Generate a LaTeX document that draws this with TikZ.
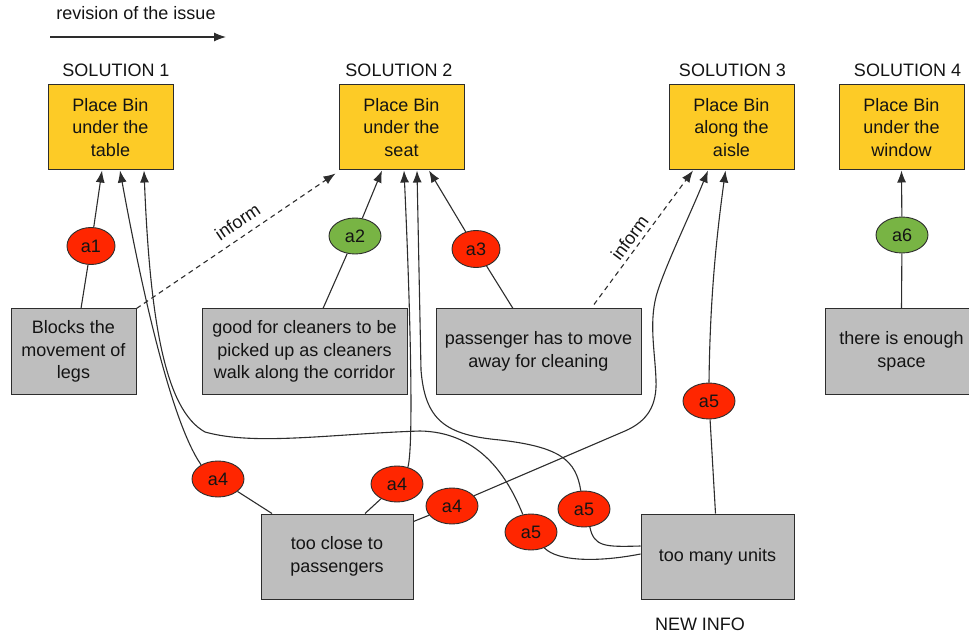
\documentclass[tikz,border=0pt]{standalone}
\usepackage{fontspec}
\setmainfont{Liberation Sans}
\usetikzlibrary{calc,arrows.meta,shapes.geometric}
\definecolor{solfill}{RGB}{253,203,38}
\definecolor{infofill}{RGB}{190,190,190}
\definecolor{conred}{RGB}{255,38,0}
\definecolor{progreen}{RGB}{120,180,68}
\definecolor{edge}{RGB}{45,45,45}
\definecolor{ink}{RGB}{20,20,20}
\begin{document}
\begin{tikzpicture}[x=1pt,y=-1pt,
  every node/.style={font=\fontsize{18}{22.5}\selectfont, text=ink},
  solbox/.style={draw=edge, line width=1pt, fill=solfill, minimum width=125pt,
    minimum height=85pt, align=center, inner sep=0pt},
  infobox/.style={draw=edge, line width=1pt, fill=infofill, minimum height=85pt,
    align=center, inner sep=0pt},
  argcon/.style={ellipse, draw=edge, line width=0.9pt, fill=conred,
    minimum width=52pt, minimum height=36pt, inner sep=0pt},
  argpro/.style={argcon, fill=progreen},
  link/.style={draw=edge, line width=1.1pt},
  arr/.style={link, -{Latex[length=12pt,width=9pt]}},
  informarrow/.style={arr, dash pattern=on 5pt off 4pt},
  heading/.style={inner sep=0pt}
]
\useasboundingbox (0,0) rectangle (969,636);

% direction of revision
\node[heading] (rev) at (136,13) {revision of the issue};
\coordinate (revA) at (50,37);
\coordinate (revB) at (226,37);
\draw[arr] (revA) -- (revB);

% solutions
\node[heading] (h1) at (116,70) {SOLUTION 1};
\node[heading] (h2) at (399,70) {SOLUTION 2};
\node[heading] (h3) at (732.5,70) {SOLUTION 3};
\node[heading] (h4) at (907.5,70) {SOLUTION 4};

\node[solbox] (S1) at (110.5,127.5) {Place Bin\\under the\\table};
\node[solbox] (S2) at (401.5,127.5) {Place Bin\\under the\\seat};
\node[solbox] (S3) at (731.5,127.5) {Place Bin\\along the\\aisle};
\node[solbox] (S4) at (901.5,127.5) {Place Bin\\under the\\window};

% information boxes
\node[infobox, minimum width=125pt] (blk) at (73.5,351.5) {Blocks the\\movement of\\legs};
\node[infobox, minimum width=205pt] (good) at (304.5,351.5) {good for cleaners to be\\picked up as cleaners\\walk along the corridor};
\node[infobox, minimum width=205pt] (pas) at (538.5,351.5) {passenger has to move\\away for cleaning};
\node[infobox, minimum width=152pt] (enough) at (901.5,351.5) {there is enough\\space};
\node[infobox, minimum width=152pt] (tc) at (337,556.5) {too close to\\passengers};
\node[infobox, minimum width=153pt] (tm) at (717.5,556.5) {too many units};
\node[heading] (newinfo) at (700,624) {NEW INFO};

% arguments
\node[argcon, minimum width=48pt, minimum height=37pt] (a1) at (91,246) {a1};
\node[argpro] (a2) at (355,236) {a2};
\node[argcon, minimum width=48pt, minimum height=37pt] (a3) at (476,249) {a3};
\node[argpro] (a6) at (902,235) {a6};
\node[argcon] (a4L) at (218,479) {a4};
\node[argcon] (a4M) at (397,484) {a4};
\node[argcon] (a4R) at (452,506) {a4};
\node[argcon] (a5L) at (531,532) {a5};
\node[argcon] (a5M) at (584,509) {a5};
\node[argcon] (a5R) at (709,401) {a5};

% straight links
\draw[link] (a1) -- ($(blk.north)+(7.5,0)$);
\draw[arr] (a1) -- ($(S1.south)+(-8.5,0)$);
\draw[link] (a2) -- ($(good.north)+(18.5,0)$);
\draw[arr] (a2) -- ($(S2.south)+(-19.5,0)$);
\draw[link] (a3) -- ($(pas.north)+(-25.5,0)$);
\draw[arr] (a3) -- ($(S2.south)+(27.5,0)$);
\draw[link] (a6) -- (enough.north);
\draw[arr] (a6) -- (S4.south);

% informing links
\draw[informarrow] (blk.north east) -- node[sloped, above=8pt, pos=0.55, inner sep=0pt] {inform} ($(S2.south west)+(-3,3)$);
\draw[informarrow] ($(pas.north)+(55.5,-4)$) -- node[sloped, above=4pt, pos=0.45, inner sep=0pt] {inform} ($(S3.south)+(-38.5,0)$);

% too close to passengers
\draw[link] (a4L) -- ($(tc.north)+(-65,0)$);
\draw[link] (a4M) -- ($(tc.north)+(28,0)$);
\draw[link] (a4R) -- ($(tc.north east)+(0,8)$);
\draw[arr] (a4L.140) .. controls (170,420) and (140,280) .. ($(S1.south)+(9.5,0)$);
\draw[arr] (a4M.57) .. controls (414,445) and (410,300) .. ($(S2.south)+(2.5,0)$);
\draw[arr] (a4R.25) -- (625,431) .. controls (648,421) and (657,405) .. (656,380)
  .. controls (655,350) and (648,320) .. (658,290)
  .. controls (668,260) and (690,215) .. ($(S3.south)+(-23.5,0)$);

% too many units
\draw[link] (a5R) -- ($(tm.north)+(-2,0)$);
\draw[link] (a5M.-72) .. controls (594,547) and (605,547) .. ($(tm.west)+(0,-10.5)$);
\draw[link] (a5L.-50) .. controls (558,562) and (600,562) .. ($(tm.west)+(0,-2.5)$);
\draw[arr] (a5R.north) .. controls (710,300) and (716,240) .. ($(S3.south)+(-6,0)$);
\draw[arr] (a5M.100) .. controls (576,460) and (560,447) .. (500,440)
  .. controls (445,435) and (425,420) .. (421,370) -- ($(S2.south)+(15.5,0)$);
\draw[arr] (a5L.115) .. controls (505,470) and (475,432) .. (420,431)
  .. controls (330,434) and (255,446) .. (205,432)
  .. controls (165,410) and (150,320) .. ($(S1.south)+(33.5,0)$);
\end{tikzpicture}
\end{document}
